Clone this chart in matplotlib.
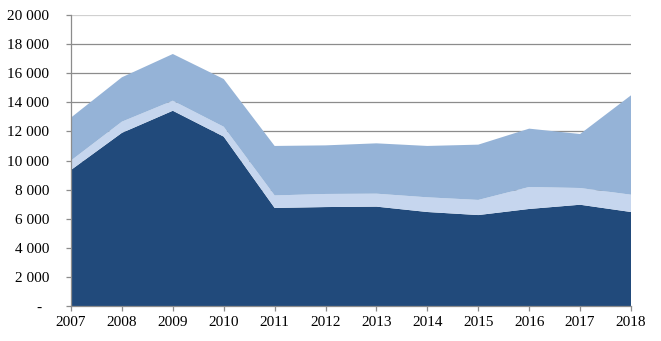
import matplotlib.pyplot as plt
import numpy as np
from matplotlib import ticker

years = [2007, 2008, 2009, 2010, 2011, 2012, 2013, 2014, 2015, 2016, 2017, 2018]
# bottom layer, top of middle layer, total
dark = [9350, 11900, 13420, 11640, 6740, 6800, 6830, 6460, 6250, 6670, 6960, 6460]
middle_top = [10000, 12670, 14110, 12320, 7600, 7700, 7720, 7470, 7290, 8180, 8110, 7650]
total = [12950, 15720, 17320, 15600, 11000, 11040, 11180, 11000, 11090, 12190, 11820, 14480]

middle = [m - d for m, d in zip(middle_top, dark)]
upper = [t - m for t, m in zip(total, middle_top)]

colors = ['#214A7B', '#C6D6EE', '#95B3D7']

plt.rcParams['font.family'] = ['Liberation Serif', 'DejaVu Serif']

fig = plt.figure(figsize=(6.61, 3.41), dpi=100)
ax = fig.add_axes([71 / 661, 1 - 306 / 341, 560 / 661, 291 / 341])

ax.stackplot(years, dark, middle, upper, colors=colors, linewidth=0, zorder=2)

ax.set_xlim(years[0], years[-1])
ax.set_ylim(0, 20000)
ax.set_xticks(years)
ax.set_yticks(np.arange(0, 20001, 2000))


def fmt(v, pos):
    if v == 0:
        return '-  '
    return '{:,.0f}'.format(v).replace(',', ' ')


ax.yaxis.set_major_formatter(ticker.FuncFormatter(fmt))
ax.grid(axis='y', color='#8C8C8C', linewidth=0.9, zorder=1)
ax.set_axisbelow(True)

for side in ['top', 'right']:
    ax.spines[side].set_visible(False)
for side in ['left', 'bottom']:
    ax.spines[side].set_color('#8C8C8C')
    ax.spines[side].set_linewidth(0.9)

ax.tick_params(axis='both', colors='#8C8C8C', length=3.5, width=0.9, labelsize=11,
               labelcolor='#000000')
ax.tick_params(axis='y', pad=12)
ax.tick_params(axis='x', pad=4)

# the top gridline is drawn lighter in the original
ax.get_ygridlines()[-1].set_color('#D0D0D0')

fig.savefig('out.png', dpi=100)
